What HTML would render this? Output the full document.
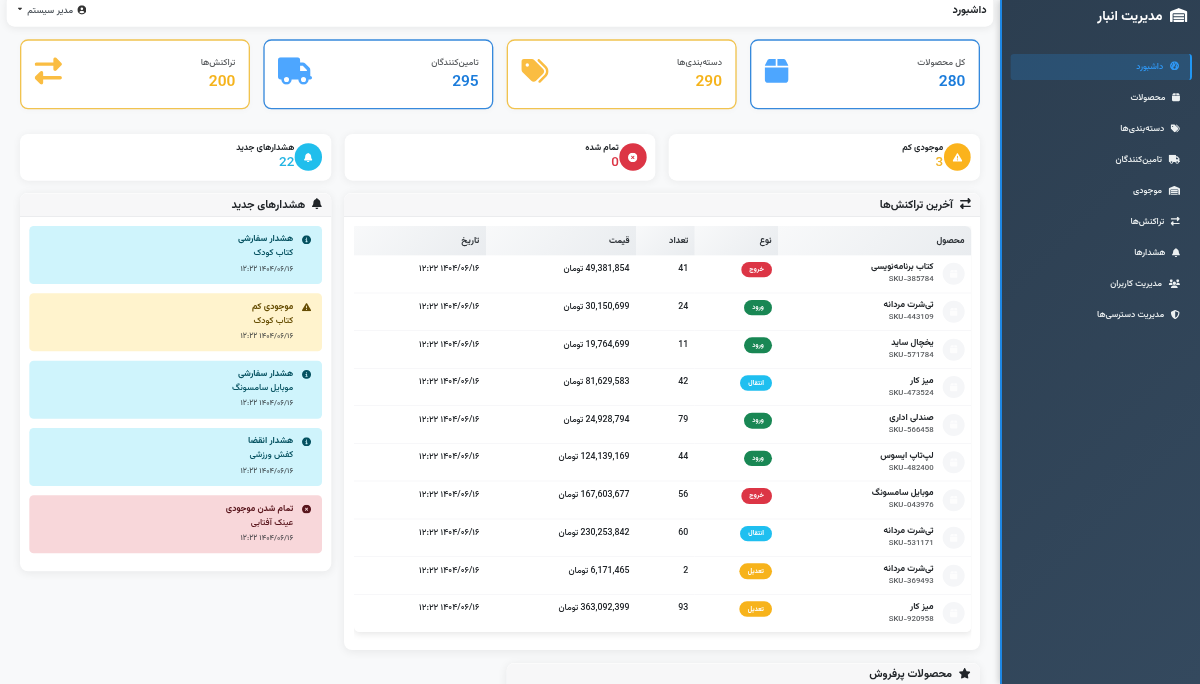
<!DOCTYPE html>
<html lang="fa" dir="rtl">
<head>
<meta charset="utf-8">
<title>داشبورد - مدیریت انبار</title>
<style>
*{box-sizing:border-box}
html,body{margin:0;padding:0;width:1200px;height:684px;overflow:hidden;background:#f8f9fa}
body{font-family:"Vazirmatn","Liberation Sans","DejaVu Sans",sans-serif}
#app{position:absolute;left:0;top:0;width:1800px;height:1026px;transform:scale(0.6666667);transform-origin:0 0;direction:rtl;font-size:13.2px;font-weight:460;line-height:1.5;color:#212529;background:#f8f9fa;overflow:hidden;text-align:right}
svg.ic{display:inline-block;vertical-align:-0.125em;flex:none}
h1,h2,h3,h4,h5,h6,p{margin:0}
/* sidebar */
#sidebar{position:absolute;left:1500px;top:0;width:300px;height:1026px;background:linear-gradient(135deg,#2c3e50 0%,#34495e 100%);border-left:3.6px solid #1e88e5;box-shadow:-2px 0 10px rgba(0,0,0,.2);color:#ecf0f1;z-index:5}
#brand{position:absolute;right:19px;top:8.5px;height:32px;display:flex;align-items:center;color:#fff;font-size:20px;font-weight:700;white-space:nowrap}
#brand svg{margin-left:11px;position:relative;top:-2.2px}
#nav{position:absolute;left:12.5px;right:12px;top:81.3px;list-style:none;margin:0;padding:0}
#nav li{height:38.5px;margin-bottom:8.1px;padding:0 15px;border-right:3px solid transparent;border-radius:5px;display:flex;align-items:center;color:#ecf0f1;white-space:nowrap}
#nav li svg{margin-left:10px;position:relative;top:-1.3px}
#nav li.active svg{top:-2.2px}
#nav li span{font-size:13.1px;font-weight:540;position:relative;top:.3px}
#nav li.active{background:rgba(33,150,243,.2);border-right-color:#2196f3;color:#2f97f4;padding-right:16.5px}
/* top bar */
#topbar{position:absolute;left:9.8px;width:1480.2px;top:-8.4px;height:48px;background:#fff;border-radius:12px;box-shadow:0 2px 12px rgba(0,0,0,.08);display:flex;align-items:center;justify-content:space-between;padding:0.3px 10px 0 16.9px}
#topbar h5{font-size:16.3px;font-weight:680;line-height:1.2;position:relative;top:.75px}
#user{display:flex;align-items:center;color:#495057;white-space:nowrap}
#user span{position:relative;top:.8px;font-size:13.55px}
#user .uic{margin-left:6px;color:#333;position:relative;top:-.9px}
#user .car{margin-right:8.2px;color:#333;position:relative;top:-2.6px}
/* stat cards */
.stat{position:absolute;top:59.25px;width:345px;height:104.5px;background:#fff;border:2px solid;border-radius:12px;padding:0 20px;display:flex;justify-content:space-between;box-shadow:0 2px 10px rgba(0,0,0,.025)}
.stat.b{border-color:#3689dc}
.stat.y{border-color:#f1c34f}
.stat .lbl{font-size:13.4px;color:rgba(33,37,41,.75);line-height:20.4px;margin-top:23.3px;white-space:nowrap}
.stat .num{font-size:23.2px;font-weight:600;line-height:28.6px;margin-top:3.6px}
.stat.b .num{color:#1b7cdb}
.stat.y .num{color:#f5b31b}
.stat .si{margin-top:24.5px;opacity:1}
/* mini cards */
.mini{position:absolute;top:201px;width:466.67px;height:69.5px;background:#fff;border-radius:12px;box-shadow:0 2px 12px rgba(0,0,0,.06);padding:0 13.7px;display:flex;align-items:center}
.mini .circ{width:40.6px;height:40.6px;border-radius:50%;display:flex;align-items:center;justify-content:center;color:#fff;flex:none}
.mini .t{font-size:13.05px;font-weight:700;line-height:16.3px;color:#212529;white-space:nowrap;position:relative;top:-1.5px;margin-right:.9px}
.mini .n{font-size:20.1px;font-weight:500;line-height:24.5px;margin-right:.9px}
/* cards */
.card{position:absolute;background:#fff;border-radius:12px;box-shadow:0 2px 14px rgba(0,0,0,.07);overflow:hidden;border-top:1px solid #fcfcfc}
.card .hd{height:35px;background:#f7f7f8;border-bottom:1px solid #e4e6e9;padding:1.8px 13.6px 0;display:flex;align-items:center;font-size:16.6px;font-weight:660;line-height:20.4px;color:#212529;white-space:nowrap}
.card .hd svg{margin-left:10.5px;position:relative;top:-2.2px}
/* alerts */
.al{position:absolute;right:13.6px;left:13.6px;height:87.2px;border-radius:6.5px;padding:0 16px 0 0;display:flex;align-items:flex-start}
.al svg{margin-top:13.8px;margin-left:13.6px}
.al .a1{font-weight:700;line-height:20.4px;margin-top:10.2px;white-space:nowrap}
.al .a2{line-height:20.4px;margin-top:.8px;white-space:nowrap}
.al .a3{font-size:11.55px;line-height:17.85px;margin-top:4.8px;color:rgba(33,37,41,.75);white-space:nowrap}
.al.info{background:#cff4fc;color:#055160}
.al.warn{background:#fff3cd;color:#664d03}
.al.dang{background:#f8d7da;color:#58151c}
/* table */
#twc{position:absolute;left:14.4px;top:48.7px;width:926.4px;height:623px;overflow:hidden}
#tw{position:absolute;left:0;top:0;width:926.4px;height:609.2px;border-radius:1px 9px 8px 8px;box-shadow:0 3px 11px rgba(0,0,0,.1);overflow:hidden;background:#fff}
table{border-collapse:collapse;border-spacing:0;width:926.4px;table-layout:fixed;direction:rtl}
th{height:44.2px;padding:0 10px;background:linear-gradient(135deg,#f8f9fa 0%,#e9ecef 100%);font-weight:670;color:#2b3035;text-align:right;vertical-align:middle;white-space:nowrap}
td{height:56.5px;padding:8.5px 10px 0 10px;vertical-align:top;border-top:1px solid #f3f4f6;white-space:nowrap;color:#212529}
tr:first-child td{border-top:0}
td.t{padding-top:10.45px}
td.b{padding-right:9.1px}
.prod{display:flex;align-items:center;height:38.25px}
.av{width:33px;height:33px;border-radius:50%;background:#f5f6f8;display:flex;align-items:center;justify-content:center;margin-left:13.6px;flex:none;color:rgba(255,255,255,.75);position:relative;top:.2px}
.pn{font-weight:700;line-height:20.4px;position:relative;top:-.6px}
.ps{font-size:11.65px;font-weight:460;line-height:17.85px;color:rgba(33,37,41,.75);direction:ltr;text-align:right;position:relative;top:-.9px}
.bd{display:inline-block;vertical-align:top;margin-top:1.5px;height:23.4px;line-height:23.4px;padding:0 12.5px;border-radius:12px;font-size:9.9px;font-weight:700;color:#fff}
.bd.r{background:#dc3545}.bd.g{background:#198754}.bd.c{background:#1fbff0}.bd.o{background:#f7b31b}
</style>
</head>
<body>
<div id="app">
<header id="topbar"><h5>داشبورد</h5><div id="user"><svg class="ic uic" viewBox="0 0 512 512" width="13.60" height="13.60" fill="currentColor" aria-hidden="true"><path d="M399 384.200C376.900 345.800 335.400 320 288 320H224c-47.400 0-88.900 25.800-111 64.200c35.200 39.200 86.200 63.800 143 63.800s107.800-24.700 143-63.800zM0 256a256 256 0 1 1 512 0A256 256 0 1 1 0 256zm256 16a72 72 0 1 0 0-144 72 72 0 1 0 0 144z"/></svg><span>مدیر سیستم</span><svg class="ic car" viewBox="0 0 320 512" width="5.94" height="9.50" fill="currentColor" aria-hidden="true"><path d="M137.400 374.600c12.500 12.500 32.800 12.500 45.300 0l128-128c9.200-9.200 11.900-22.900 6.900-34.900s-16.600-19.800-29.600-19.800L32 192c-12.900 0-24.600 7.800-29.600 19.800s-2.200 25.700 6.900 34.900l128 128z"/></svg></div></header>
<section class="stat b" style="left:1125px"><div><div class="lbl">کل محصولات</div><div class="num">280</div></div><svg class="ic si" viewBox="0 0 448 512" width="35.70" height="40.80" fill="#4da6ff" aria-hidden="true"><path d="M50.7 58.500L0 160H208V32H93.700C75.500 32 58.900 42.300 50.700 58.500zM240 160H448L397.300 58.500C389.100 42.300 372.500 32 354.300 32H240V160zm208 32H0V416c0 35.300 28.700 64 64 64H384c35.300 0 64-28.700 64-64V192z"/></svg></section>
<section class="stat y" style="left:760px"><div><div class="lbl">دسته‌بندی‌ها</div><div class="num">290</div></div><svg class="ic si" viewBox="0 0 512 512" width="40.80" height="40.80" fill="#fabd42" aria-hidden="true"><path d="M345 39.100L472.800 168.400c52.400 53 52.400 138.200 0 191.200L360.800 472.900c-9.300 9.400-24.500 9.500-33.900 .2s-9.500-24.500-.2-33.900L438.600 325.900c33.900-34.300 33.900-89.400 0-123.700L310.900 72.900c-9.300-9.400-9.200-24.600 .2-33.900s24.600-9.200 33.900 .2zM0 229.500V80C0 53.500 21.500 32 48 32H197.500c17 0 33.300 6.700 45.300 18.700l168 168c25 25 25 65.500 0 90.500L277.300 442.700c-25 25-65.500 25-90.500 0l-168-168C6.700 262.700 0 246.500 0 229.500zM144 144a32 32 0 1 0 -64 0 32 32 0 1 0 64 0z"/></svg></section>
<section class="stat b" style="left:395px"><div><div class="lbl">تامین‌کنندگان</div><div class="num">295</div></div><svg class="ic si" viewBox="0 0 640 512" width="51.00" height="40.80" fill="#4da6ff" aria-hidden="true"><path d="M48 0C21.500 0 0 21.500 0 48V368c0 26.500 21.500 48 48 48H64c0 53 43 96 96 96s96-43 96-96H384c0 53 43 96 96 96s96-43 96-96h32c17.700 0 32-14.300 32-32s-14.300-32-32-32V288 256 237.300c0-17-6.700-33.300-18.700-45.300L512 114.700c-12-12-28.300-18.700-45.300-18.700H416V48c0-26.500-21.500-48-48-48H48zM416 160h50.700L544 237.300V256H416V160zM112 416a48 48 0 1 1 96 0 48 48 0 1 1 -96 0zm368-48a48 48 0 1 1 0 96 48 48 0 1 1 0-96z"/></svg></section>
<section class="stat y" style="left:30px"><div><div class="lbl">تراکنش‌ها</div><div class="num">200</div></div><svg class="ic si" viewBox="0 0 512 512" width="40.80" height="40.80" fill="#fabd42" aria-hidden="true"><path d="M32 96l320 0V32c0-12.900 7.800-24.600 19.800-29.600s25.700-2.200 34.900 6.900l96 96c6 6 9.400 14.100 9.400 22.600s-3.400 16.600-9.400 22.600l-96 96c-9.200 9.200-22.900 11.900-34.900 6.900s-19.800-16.600-19.800-29.600V160L32 160c-17.700 0-32-14.300-32-32s14.300-32 32-32zM480 352c17.700 0 32 14.300 32 32s-14.300 32-32 32H160v64c0 12.900-7.800 24.600-19.800 29.600s-25.700 2.200-34.900-6.900l-96-96c-6-6-9.400-14.100-9.400-22.600s3.400-16.600 9.400-22.600l96-96c9.200-9.200 22.900-11.900 34.900-6.900s19.800 16.600 19.800 29.600l0 64H480z"/></svg></section>
<section class="mini" style="left:1003.33px"><div class="circ" style="background:#fbb31c"><svg class="ic" viewBox="0 0 512 512" width="14.30" height="14.30" fill="currentColor" aria-hidden="true"><path d="M256 32c14.200 0 27.300 7.500 34.500 19.800l216 368c7.300 12.400 7.300 27.700 .2 40.100S486.300 480 472 480H40c-14.300 0-27.600-7.700-34.700-20.100s-7-27.800 .2-40.100l216-368C228.700 39.500 241.800 32 256 32zm0 128c-13.300 0-24 10.700-24 24V296c0 13.300 10.700 24 24 24s24-10.700 24-24V184c0-13.300-10.700-24-24-24zm32 224a32 32 0 1 0 -64 0 32 32 0 1 0 64 0z"/></svg></div><div><div class="t">موجودی کم</div><div class="n" style="color:#f3b52a">3</div></div></section>
<section class="mini" style="left:516.67px"><div class="circ" style="background:#dc3545"><svg class="ic" viewBox="0 0 512 512" width="14.30" height="14.30" fill="currentColor" aria-hidden="true"><path d="M256 512A256 256 0 1 0 256 0a256 256 0 1 0 0 512zM175 175c9.400-9.400 24.600-9.400 33.900 0l47 47 47-47c9.400-9.400 24.600-9.400 33.900 0s9.400 24.600 0 33.900l-47 47 47 47c9.400 9.400 9.400 24.600 0 33.900s-24.600 9.400-33.900 0l-47-47-47 47c-9.400 9.400-24.600 9.400-33.900 0s-9.400-24.600 0-33.900l47-47-47-47c-9.400-9.400-9.400-24.600 0-33.900z"/></svg></div><div><div class="t">تمام شده</div><div class="n" style="color:#dc3545">0</div></div></section>
<section class="mini" style="left:30px"><div class="circ" style="background:#20beec"><svg class="ic" viewBox="0 0 448 512" width="12.51" height="14.30" fill="currentColor" aria-hidden="true"><path d="M224 0c-17.700 0-32 14.300-32 32V51.200C119 66 64 130.600 64 208v18.800c0 47-17.300 92.400-48.500 127.600l-7.400 8.300c-8.400 9.400-10.400 22.900-5.300 34.400S19.400 416 32 416H416c12.600 0 24-7.400 29.200-18.900s3.100-25-5.300-34.400l-7.400-8.300C401.300 319.200 384 273.900 384 226.800V208c0-77.400-55-142-128-156.800V32c0-17.700-14.300-32-32-32zm45.300 493.300c12-12 18.700-28.300 18.700-45.300H224 160c0 17 6.700 33.300 18.700 45.300s28.300 18.700 45.300 18.700s33.300-6.700 45.300-18.700z"/></svg></div><div><div class="t">هشدارهای جدید</div><div class="n" style="color:#22b4e3">22</div></div></section>
<section class="card" style="left:516.2px;top:289.1px;width:953.8px;height:685.6px"><div class="hd"><svg class="ic" viewBox="0 0 512 512" width="16.70" height="16.70" fill="currentColor" aria-hidden="true"><path d="M32 96l320 0V32c0-12.900 7.800-24.600 19.800-29.600s25.700-2.200 34.900 6.900l96 96c6 6 9.400 14.100 9.400 22.600s-3.400 16.600-9.400 22.600l-96 96c-9.200 9.200-22.900 11.900-34.900 6.900s-19.800-16.600-19.800-29.600V160L32 160c-17.700 0-32-14.300-32-32s14.300-32 32-32zM480 352c17.700 0 32 14.300 32 32s-14.300 32-32 32H160v64c0 12.900-7.800 24.600-19.800 29.600s-25.700 2.200-34.900-6.900l-96-96c-6-6-9.400-14.100-9.400-22.600s3.400-16.600 9.400-22.600l96-96c9.200-9.200 22.900-11.900 34.900-6.900s19.800 16.600 19.800 29.600l0 64H480z"/></svg><span>آخرین تراکنش‌ها</span></div>
<div id="twc"><div id="tw"><table>
<colgroup><col style="width:289.5px"><col style="width:125px"><col style="width:88.2px"><col style="width:225.3px"><col style="width:198.4px"></colgroup>
<thead><tr><th>محصول</th><th>نوع</th><th>تعداد</th><th>قیمت</th><th>تاریخ</th></tr></thead>
<tbody>
<tr><td><div class="prod"><div class="av"><svg class="ic" viewBox="0 0 448 512" width="11.90" height="13.60" fill="currentColor" aria-hidden="true"><path d="M50.7 58.500L0 160H208V32H93.700C75.500 32 58.900 42.300 50.700 58.500zM240 160H448L397.300 58.500C389.100 42.300 372.500 32 354.300 32H240V160zm208 32H0V416c0 35.300 28.700 64 64 64H384c35.300 0 64-28.700 64-64V192z"/></svg></div><div><div class="pn">کتاب برنامه‌نویسی</div><div class="ps">SKU-385784</div></div></div></td><td class="b"><span class="bd r">خروج</span></td><td class="t">41</td><td class="t">49,381,854 تومان</td><td class="t">۱۴۰۴/۰۶/۱۶ ۱۲:۲۲</td></tr>
<tr><td><div class="prod"><div class="av"><svg class="ic" viewBox="0 0 448 512" width="11.90" height="13.60" fill="currentColor" aria-hidden="true"><path d="M50.7 58.500L0 160H208V32H93.700C75.500 32 58.900 42.300 50.700 58.500zM240 160H448L397.300 58.500C389.100 42.300 372.500 32 354.300 32H240V160zm208 32H0V416c0 35.300 28.700 64 64 64H384c35.300 0 64-28.700 64-64V192z"/></svg></div><div><div class="pn">تی‌شرت مردانه</div><div class="ps">SKU-443109</div></div></div></td><td class="b"><span class="bd g">ورود</span></td><td class="t">24</td><td class="t">30,150,699 تومان</td><td class="t">۱۴۰۴/۰۶/۱۶ ۱۲:۲۲</td></tr>
<tr><td><div class="prod"><div class="av"><svg class="ic" viewBox="0 0 448 512" width="11.90" height="13.60" fill="currentColor" aria-hidden="true"><path d="M50.7 58.500L0 160H208V32H93.700C75.500 32 58.900 42.300 50.700 58.500zM240 160H448L397.300 58.500C389.100 42.300 372.500 32 354.300 32H240V160zm208 32H0V416c0 35.300 28.700 64 64 64H384c35.300 0 64-28.700 64-64V192z"/></svg></div><div><div class="pn">یخچال ساید</div><div class="ps">SKU-571784</div></div></div></td><td class="b"><span class="bd g">ورود</span></td><td class="t">11</td><td class="t">19,764,699 تومان</td><td class="t">۱۴۰۴/۰۶/۱۶ ۱۲:۲۲</td></tr>
<tr><td><div class="prod"><div class="av"><svg class="ic" viewBox="0 0 448 512" width="11.90" height="13.60" fill="currentColor" aria-hidden="true"><path d="M50.7 58.500L0 160H208V32H93.700C75.500 32 58.900 42.300 50.700 58.500zM240 160H448L397.300 58.500C389.100 42.300 372.500 32 354.300 32H240V160zm208 32H0V416c0 35.300 28.700 64 64 64H384c35.300 0 64-28.700 64-64V192z"/></svg></div><div><div class="pn">میز کار</div><div class="ps">SKU-473524</div></div></div></td><td class="b"><span class="bd c">انتقال</span></td><td class="t">42</td><td class="t">81,629,583 تومان</td><td class="t">۱۴۰۴/۰۶/۱۶ ۱۲:۲۲</td></tr>
<tr><td><div class="prod"><div class="av"><svg class="ic" viewBox="0 0 448 512" width="11.90" height="13.60" fill="currentColor" aria-hidden="true"><path d="M50.7 58.500L0 160H208V32H93.700C75.500 32 58.900 42.300 50.700 58.500zM240 160H448L397.300 58.500C389.100 42.300 372.500 32 354.300 32H240V160zm208 32H0V416c0 35.300 28.700 64 64 64H384c35.300 0 64-28.700 64-64V192z"/></svg></div><div><div class="pn">صندلی اداری</div><div class="ps">SKU-566458</div></div></div></td><td class="b"><span class="bd g">ورود</span></td><td class="t">79</td><td class="t">24,928,794 تومان</td><td class="t">۱۴۰۴/۰۶/۱۶ ۱۲:۲۲</td></tr>
<tr><td><div class="prod"><div class="av"><svg class="ic" viewBox="0 0 448 512" width="11.90" height="13.60" fill="currentColor" aria-hidden="true"><path d="M50.7 58.500L0 160H208V32H93.700C75.500 32 58.900 42.300 50.700 58.500zM240 160H448L397.300 58.500C389.100 42.300 372.500 32 354.300 32H240V160zm208 32H0V416c0 35.300 28.700 64 64 64H384c35.300 0 64-28.700 64-64V192z"/></svg></div><div><div class="pn">لپ‌تاپ ایسوس</div><div class="ps">SKU-482400</div></div></div></td><td class="b"><span class="bd g">ورود</span></td><td class="t">44</td><td class="t">124,139,169 تومان</td><td class="t">۱۴۰۴/۰۶/۱۶ ۱۲:۲۲</td></tr>
<tr><td><div class="prod"><div class="av"><svg class="ic" viewBox="0 0 448 512" width="11.90" height="13.60" fill="currentColor" aria-hidden="true"><path d="M50.7 58.500L0 160H208V32H93.700C75.500 32 58.900 42.300 50.700 58.500zM240 160H448L397.300 58.500C389.100 42.300 372.500 32 354.300 32H240V160zm208 32H0V416c0 35.300 28.700 64 64 64H384c35.300 0 64-28.700 64-64V192z"/></svg></div><div><div class="pn">موبایل سامسونگ</div><div class="ps">SKU-043976</div></div></div></td><td class="b"><span class="bd r">خروج</span></td><td class="t">56</td><td class="t">167,603,677 تومان</td><td class="t">۱۴۰۴/۰۶/۱۶ ۱۲:۲۲</td></tr>
<tr><td><div class="prod"><div class="av"><svg class="ic" viewBox="0 0 448 512" width="11.90" height="13.60" fill="currentColor" aria-hidden="true"><path d="M50.7 58.500L0 160H208V32H93.700C75.500 32 58.900 42.300 50.700 58.500zM240 160H448L397.300 58.500C389.100 42.300 372.500 32 354.300 32H240V160zm208 32H0V416c0 35.300 28.700 64 64 64H384c35.300 0 64-28.700 64-64V192z"/></svg></div><div><div class="pn">تی‌شرت مردانه</div><div class="ps">SKU-531171</div></div></div></td><td class="b"><span class="bd c">انتقال</span></td><td class="t">60</td><td class="t">230,253,842 تومان</td><td class="t">۱۴۰۴/۰۶/۱۶ ۱۲:۲۲</td></tr>
<tr><td><div class="prod"><div class="av"><svg class="ic" viewBox="0 0 448 512" width="11.90" height="13.60" fill="currentColor" aria-hidden="true"><path d="M50.7 58.500L0 160H208V32H93.700C75.500 32 58.900 42.300 50.700 58.500zM240 160H448L397.300 58.500C389.100 42.300 372.500 32 354.300 32H240V160zm208 32H0V416c0 35.300 28.700 64 64 64H384c35.300 0 64-28.700 64-64V192z"/></svg></div><div><div class="pn">تی‌شرت مردانه</div><div class="ps">SKU-369493</div></div></div></td><td class="b"><span class="bd o">تعدیل</span></td><td class="t">2</td><td class="t">6,171,465 تومان</td><td class="t">۱۴۰۴/۰۶/۱۶ ۱۲:۲۲</td></tr>
<tr><td><div class="prod"><div class="av"><svg class="ic" viewBox="0 0 448 512" width="11.90" height="13.60" fill="currentColor" aria-hidden="true"><path d="M50.7 58.500L0 160H208V32H93.700C75.500 32 58.900 42.300 50.700 58.500zM240 160H448L397.300 58.500C389.100 42.300 372.500 32 354.300 32H240V160zm208 32H0V416c0 35.300 28.700 64 64 64H384c35.300 0 64-28.700 64-64V192z"/></svg></div><div><div class="pn">میز کار</div><div class="ps">SKU-920958</div></div></div></td><td class="b"><span class="bd o">تعدیل</span></td><td class="t">93</td><td class="t">363,092,399 تومان</td><td class="t">۱۴۰۴/۰۶/۱۶ ۱۲:۲۲</td></tr>
</tbody></table></div></div></section>
<section class="card" style="left:30px;top:289.1px;width:466.67px;height:567.8px"><div class="hd"><svg class="ic" viewBox="0 0 448 512" width="14.61" height="16.70" fill="currentColor" aria-hidden="true"><path d="M224 0c-17.700 0-32 14.300-32 32V51.200C119 66 64 130.600 64 208v18.800c0 47-17.300 92.400-48.500 127.600l-7.400 8.300c-8.400 9.400-10.400 22.900-5.300 34.400S19.400 416 32 416H416c12.600 0 24-7.400 29.200-18.900s3.100-25-5.300-34.400l-7.400-8.300C401.300 319.200 384 273.900 384 226.800V208c0-77.400-55-142-128-156.800V32c0-17.700-14.300-32-32-32zm45.300 493.300c12-12 18.700-28.300 18.700-45.300H224 160c0 17 6.700 33.300 18.700 45.300s28.300 18.700 45.300 18.700s33.300-6.700 45.300-18.700z"/></svg><span>هشدارهای جدید</span></div>
<div class="al info" style="top:48.7px"><svg class="ic" viewBox="0 0 512 512" width="13.60" height="13.60" fill="currentColor" aria-hidden="true"><path d="M256 512A256 256 0 1 0 256 0a256 256 0 1 0 0 512zM216 336h24V272H216c-13.300 0-24-10.700-24-24s10.700-24 24-24h48c13.300 0 24 10.700 24 24v88h8c13.300 0 24 10.700 24 24s-10.700 24-24 24H216c-13.300 0-24-10.700-24-24s10.700-24 24-24zm40-208a32 32 0 1 1 0 64 32 32 0 1 1 0-64z"/></svg><div><div class="a1">هشدار سفارشی</div><div class="a2">کتاب کودک</div><div class="a3">۱۴۰۴/۰۶/۱۶ ۱۲:۲۲</div></div></div>
<div class="al warn" style="top:149.7px"><svg class="ic" viewBox="0 0 512 512" width="13.60" height="13.60" fill="currentColor" aria-hidden="true"><path d="M256 32c14.200 0 27.300 7.500 34.500 19.800l216 368c7.300 12.400 7.300 27.700 .2 40.100S486.300 480 472 480H40c-14.300 0-27.600-7.700-34.700-20.100s-7-27.800 .2-40.100l216-368C228.700 39.500 241.800 32 256 32zm0 128c-13.300 0-24 10.700-24 24V296c0 13.300 10.700 24 24 24s24-10.700 24-24V184c0-13.300-10.700-24-24-24zm32 224a32 32 0 1 0 -64 0 32 32 0 1 0 64 0z"/></svg><div><div class="a1">موجودی کم</div><div class="a2">کتاب کودک</div><div class="a3">۱۴۰۴/۰۶/۱۶ ۱۲:۲۲</div></div></div>
<div class="al info" style="top:250.7px"><svg class="ic" viewBox="0 0 512 512" width="13.60" height="13.60" fill="currentColor" aria-hidden="true"><path d="M256 512A256 256 0 1 0 256 0a256 256 0 1 0 0 512zM216 336h24V272H216c-13.300 0-24-10.700-24-24s10.700-24 24-24h48c13.300 0 24 10.700 24 24v88h8c13.300 0 24 10.700 24 24s-10.700 24-24 24H216c-13.300 0-24-10.700-24-24s10.700-24 24-24zm40-208a32 32 0 1 1 0 64 32 32 0 1 1 0-64z"/></svg><div><div class="a1">هشدار سفارشی</div><div class="a2">موبایل سامسونگ</div><div class="a3">۱۴۰۴/۰۶/۱۶ ۱۲:۲۲</div></div></div>
<div class="al info" style="top:351.7px"><svg class="ic" viewBox="0 0 512 512" width="13.60" height="13.60" fill="currentColor" aria-hidden="true"><path d="M256 512A256 256 0 1 0 256 0a256 256 0 1 0 0 512zM216 336h24V272H216c-13.300 0-24-10.700-24-24s10.700-24 24-24h48c13.300 0 24 10.700 24 24v88h8c13.300 0 24 10.700 24 24s-10.700 24-24 24H216c-13.300 0-24-10.700-24-24s10.700-24 24-24zm40-208a32 32 0 1 1 0 64 32 32 0 1 1 0-64z"/></svg><div><div class="a1">هشدار انقضا</div><div class="a2">کفش ورزشی</div><div class="a3">۱۴۰۴/۰۶/۱۶ ۱۲:۲۲</div></div></div>
<div class="al dang" style="top:452.7px"><svg class="ic" viewBox="0 0 512 512" width="13.60" height="13.60" fill="currentColor" aria-hidden="true"><path d="M256 512A256 256 0 1 0 256 0a256 256 0 1 0 0 512zM175 175c9.400-9.400 24.600-9.400 33.900 0l47 47 47-47c9.400-9.400 24.600-9.400 33.900 0s9.400 24.600 0 33.900l-47 47 47 47c9.400 9.400 9.400 24.600 0 33.900s-24.600 9.400-33.900 0l-47-47-47 47c-9.400 9.400-24.600 9.400-33.900 0s-9.400-24.600 0-33.900l47-47-47-47c-9.400-9.400-9.400-24.600 0-33.900z"/></svg><div><div class="a1">تمام شدن موجودی</div><div class="a2">عینک آفتابی</div><div class="a3">۱۴۰۴/۰۶/۱۶ ۱۲:۲۲</div></div></div>
</section>
<section class="card" style="left:760px;top:993.6px;width:710px;height:200px"><div class="hd"><svg class="ic" viewBox="0 0 576 512" width="18.00" height="16.00" fill="currentColor" aria-hidden="true"><path d="M316.900 18C311.600 7 300.400 0 288.100 0s-23.400 7-28.800 18L195 150.300 51.400 171.500c-12 1.800-22 10.200-25.700 21.700s-.7 24.200 7.900 32.700L137.800 329 113.200 474.700c-2 12 3 24.200 12.900 31.300s23 8 33.800 2.300l128.300-68.500 128.300 68.500c10.800 5.700 23.900 4.900 33.800-2.300s14.900-19.300 12.900-31.300L438.500 329 542.700 225.900c8.600-8.500 11.700-21.200 7.900-32.700s-13.700-19.900-25.700-21.700L381.200 150.300 316.900 18z"/></svg><span>محصولات پرفروش</span></div></section>
<aside id="sidebar"><div id="brand"><svg class="ic" viewBox="0 0 640 512" width="26.25" height="21.00" fill="currentColor" aria-hidden="true"><path d="M0 488V171.3c0-26.200 15.900-49.700 40.200-59.400L308.100 4.800c7.600-3.100 16.100-3.100 23.800 0L599.800 111.900c24.300 9.700 40.200 33.300 40.200 59.400V488c0 13.300-10.700 24-24 24H568c-13.300 0-24-10.700-24-24V224c0-17.700-14.300-32-32-32H128c-17.700 0-32 14.300-32 32V488c0 13.300-10.700 24-24 24H24c-13.300 0-24-10.700-24-24zm488 24H152c-13.300 0-24-10.700-24-24V432H512v56c0 13.300-10.700 24-24 24zM128 400V336H512v64H128zm0-96V224H512v80H128z"/></svg><span>مدیریت انبار</span></div>
<ul id="nav">
<li class="active"><svg class="ic" viewBox="0 0 512 512" width="13.60" height="13.60" fill="currentColor" aria-hidden="true"><path d="M0 256a256 256 0 1 1 512 0A256 256 0 1 1 0 256zM288 96a32 32 0 1 0 -64 0 32 32 0 1 0 64 0zM256 416c35.300 0 64-28.700 64-64c0-17.400-6.900-33.100-18.100-44.600L366 161.700c5.300-12.100-.2-26.300-12.300-31.600s-26.300 .2-31.600 12.300L257.900 288c-.6 0-1.300 0-1.900 0c-35.300 0-64 28.700-64 64s28.700 64 64 64zM176 144a32 32 0 1 0 -64 0 32 32 0 1 0 64 0zM96 288a32 32 0 1 0 0-64 32 32 0 1 0 0 64zm352-32a32 32 0 1 0 -64 0 32 32 0 1 0 64 0z"/></svg><span>داشبورد</span></li>
<li><svg class="ic" viewBox="0 0 448 512" width="11.90" height="13.60" fill="currentColor" aria-hidden="true"><path d="M50.7 58.500L0 160H208V32H93.700C75.500 32 58.900 42.300 50.700 58.500zM240 160H448L397.300 58.500C389.100 42.300 372.500 32 354.300 32H240V160zm208 32H0V416c0 35.300 28.700 64 64 64H384c35.300 0 64-28.700 64-64V192z"/></svg><span>محصولات</span></li>
<li><svg class="ic" viewBox="0 0 512 512" width="13.60" height="13.60" fill="currentColor" aria-hidden="true"><path d="M345 39.100L472.800 168.400c52.400 53 52.400 138.200 0 191.200L360.800 472.900c-9.300 9.400-24.500 9.500-33.900 .2s-9.500-24.500-.2-33.900L438.600 325.900c33.900-34.300 33.900-89.400 0-123.700L310.900 72.900c-9.300-9.400-9.200-24.600 .2-33.900s24.600-9.200 33.900 .2zM0 229.500V80C0 53.500 21.500 32 48 32H197.500c17 0 33.300 6.700 45.300 18.700l168 168c25 25 25 65.500 0 90.500L277.300 442.700c-25 25-65.500 25-90.500 0l-168-168C6.700 262.700 0 246.500 0 229.500zM144 144a32 32 0 1 0 -64 0 32 32 0 1 0 64 0z"/></svg><span>دسته‌بندی‌ها</span></li>
<li><svg class="ic" viewBox="0 0 640 512" width="17.00" height="13.60" fill="currentColor" aria-hidden="true"><path d="M48 0C21.500 0 0 21.500 0 48V368c0 26.500 21.500 48 48 48H64c0 53 43 96 96 96s96-43 96-96H384c0 53 43 96 96 96s96-43 96-96h32c17.700 0 32-14.300 32-32s-14.300-32-32-32V288 256 237.300c0-17-6.700-33.300-18.700-45.300L512 114.700c-12-12-28.300-18.700-45.300-18.700H416V48c0-26.500-21.500-48-48-48H48zM416 160h50.700L544 237.300V256H416V160zM112 416a48 48 0 1 1 96 0 48 48 0 1 1 -96 0zm368-48a48 48 0 1 1 0 96 48 48 0 1 1 0-96z"/></svg><span>تامین‌کنندگان</span></li>
<li><svg class="ic" viewBox="0 0 640 512" width="17.00" height="13.60" fill="currentColor" aria-hidden="true"><path d="M0 488V171.3c0-26.200 15.900-49.700 40.200-59.400L308.100 4.800c7.600-3.100 16.100-3.100 23.800 0L599.800 111.900c24.300 9.700 40.200 33.300 40.200 59.400V488c0 13.300-10.700 24-24 24H568c-13.300 0-24-10.700-24-24V224c0-17.700-14.300-32-32-32H128c-17.700 0-32 14.300-32 32V488c0 13.300-10.700 24-24 24H24c-13.300 0-24-10.700-24-24zm488 24H152c-13.300 0-24-10.700-24-24V432H512v56c0 13.300-10.700 24-24 24zM128 400V336H512v64H128zm0-96V224H512v80H128z"/></svg><span>موجودی</span></li>
<li><svg class="ic" viewBox="0 0 512 512" width="13.60" height="13.60" fill="currentColor" aria-hidden="true"><path d="M32 96l320 0V32c0-12.900 7.800-24.600 19.800-29.600s25.700-2.200 34.900 6.900l96 96c6 6 9.400 14.100 9.400 22.600s-3.400 16.600-9.400 22.600l-96 96c-9.200 9.200-22.900 11.900-34.900 6.900s-19.800-16.600-19.800-29.600V160L32 160c-17.700 0-32-14.300-32-32s14.300-32 32-32zM480 352c17.700 0 32 14.300 32 32s-14.300 32-32 32H160v64c0 12.900-7.800 24.600-19.800 29.600s-25.700 2.200-34.900-6.900l-96-96c-6-6-9.400-14.100-9.400-22.600s3.400-16.600 9.400-22.600l96-96c9.200-9.200 22.900-11.900 34.900-6.900s19.800 16.600 19.800 29.600l0 64H480z"/></svg><span>تراکنش‌ها</span></li>
<li><svg class="ic" viewBox="0 0 448 512" width="11.90" height="13.60" fill="currentColor" aria-hidden="true"><path d="M224 0c-17.700 0-32 14.300-32 32V51.200C119 66 64 130.600 64 208v18.800c0 47-17.300 92.400-48.500 127.600l-7.400 8.300c-8.400 9.400-10.400 22.900-5.300 34.400S19.400 416 32 416H416c12.600 0 24-7.400 29.200-18.900s3.100-25-5.300-34.400l-7.400-8.300C401.300 319.200 384 273.900 384 226.800V208c0-77.400-55-142-128-156.800V32c0-17.700-14.300-32-32-32zm45.300 493.300c12-12 18.700-28.300 18.700-45.300H224 160c0 17 6.700 33.300 18.700 45.300s28.300 18.700 45.300 18.700s33.300-6.700 45.300-18.700z"/></svg><span>هشدارها</span></li>
<li><svg class="ic" viewBox="0 0 640 512" width="17.00" height="13.60" fill="currentColor" aria-hidden="true"><path d="M144 0a80 80 0 1 1 0 160A80 80 0 1 1 144 0zM512 0a80 80 0 1 1 0 160A80 80 0 1 1 512 0zM0 298.700C0 239.800 47.800 192 106.700 192h42.700c15.900 0 31 3.500 44.600 9.700c-1.300 7.200-1.900 14.700-1.900 22.300c0 38.200 16.800 72.500 43.300 96c-.2 0-.4 0-.7 0H21.300C9.600 320 0 310.400 0 298.700zM405.300 320c-.2 0-.4 0-.7 0c26.600-23.500 43.300-57.800 43.300-96c0-7.600-.7-15-1.900-22.300c13.600-6.300 28.700-9.700 44.600-9.700h42.700C592.200 192 640 239.800 640 298.700c0 11.800-9.600 21.300-21.300 21.300H405.300zM224 224a96 96 0 1 1 192 0 96 96 0 1 1 -192 0zM128 485.300C128 411.700 187.700 352 261.300 352H378.700C452.300 352 512 411.700 512 485.300c0 14.700-11.900 26.700-26.700 26.700H154.700c-14.700 0-26.700-11.900-26.700-26.700z"/></svg><span>مدیریت کاربران</span></li>
<li><svg class="ic" viewBox="0 0 512 512" width="13.60" height="13.60" fill="currentColor" aria-hidden="true"><path d="M256 0c4.600 0 9.200 1 13.400 2.900L457.700 82.800c22 9.300 38.400 31 38.300 57.200c-.5 99.200-41.300 280.700-213.600 363.200c-16.700 8-36.100 8-52.800 0C57.300 420.700 16.500 239.200 16 140c-.1-26.200 16.300-47.900 38.300-57.200L242.700 2.900C246.800 1 251.400 0 256 0zm0 66.800V444.800C394 378 431.100 230.100 432 141.400L256 66.800z"/></svg><span>مدیریت دسترسی‌ها</span></li>
</ul></aside>
</div>
</body>
</html>
